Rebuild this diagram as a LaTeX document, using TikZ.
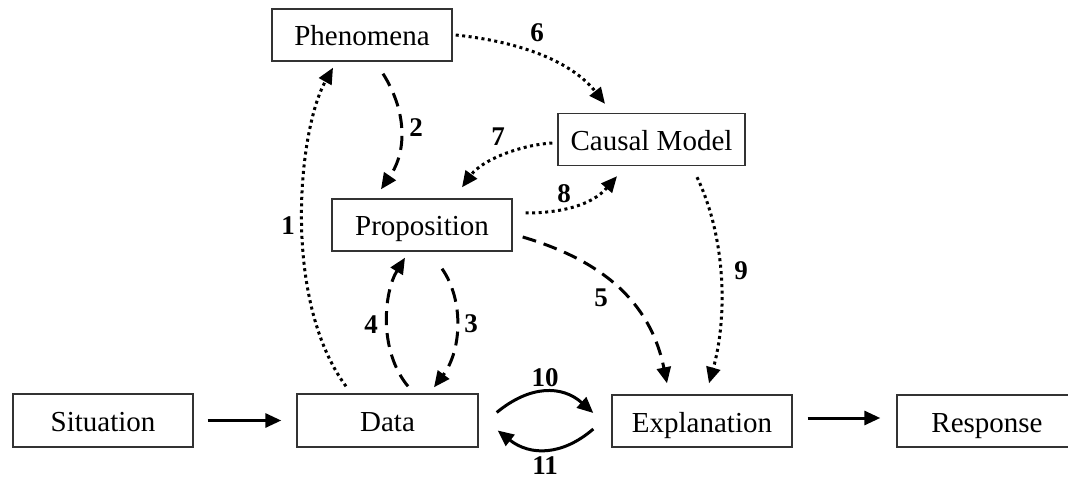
\documentclass[tikz,border=0pt]{standalone}
\usepackage{fontspec}
\setmainfont{Liberation Serif}
\usetikzlibrary{arrows.meta}
\begin{document}
\begin{tikzpicture}[x=1pt,y=-1pt,
  box/.style={draw=black!80,line width=1.4pt,inner sep=0pt,minimum height=52pt,
    text height=22pt,text depth=0pt,
    font=\fontsize{29}{32}\selectfont},
  num/.style={font=\fontsize{27}{30}\selectfont\bfseries},
  arr/.style={line width=3pt,-{Triangle[length=16pt,width=14pt]}},
  dashedarr/.style={arr,dash pattern=on 14pt off 8pt},
  dottedarr/.style={arr,dash pattern=on 3pt off 3.5pt}]
\useasboundingbox (0,0) rectangle (1068,481);
\clip (0,0) rectangle (1068,481);
\fill[white] (0,0) rectangle (1068,481);
\node[box,minimum width=180pt] (phen) at (362,35) {Phenomena};
\node[box,minimum width=187pt] (causal) at (651.5,139.5) {Causal Model};
\node[box,minimum width=180pt] (prop) at (422,225) {Proposition};
\node[box,minimum width=180pt,minimum height=53pt] (sit) at (103,420.5) {Situation};
\node[box,minimum width=181pt,minimum height=53pt] (data) at (387.5,420.5) {Data};
\node[box,minimum width=180pt,minimum height=52pt] (expl) at (702,421) {Explanation};
\node[box,minimum width=180pt,minimum height=52pt] (resp) at (987,421) {Response};
% solid
\draw[arr] ([shift={(14,0)}]sit.east) -- ([shift={(-15,0)}]data.west);
\draw[arr] ([shift={(15,-3)}]expl.east) -- ([shift={(-16,-3)}]resp.west);
\draw[arr] ([shift={(18,-8)}]data.east) .. controls (530,385) and (562,385) .. ([shift={(-18,-8)}]expl.west);
\draw[arr] ([shift={(-18,8)}]expl.west) .. controls (562,456) and (530,456) .. ([shift={(19,10)}]data.east);
% 1
\draw[dottedarr] ([shift={(-41.5,-7)}]data.north) .. controls (282,300) and (298,130) .. ([shift={(-29,6)}]phen.south);
\node[num] (n1) at (288,226) {1};
% 2
\draw[dashedarr] ([shift={(21,12)}]phen.south) .. controls (406,110) and (408,150) .. ([shift={(-41,-9)}]prop.north);
\node[num] (n2) at (416,128) {2};
% 3
\draw[dashedarr] ([shift={(20,17)}]prop.south) .. controls (464,300) and (462,350) .. ([shift={(46.5,-6)}]data.north);
\node[num] (n3) at (471,324) {3};
% 4
\draw[dashedarr] ([shift={(20.5,-7)}]data.north) .. controls (378,350) and (384,292) .. ([shift={(-17,6)}]prop.south);
\node[num] (n4) at (371,325) {4};
% 5
\draw[dashedarr] ([shift={(10,12)}]prop.east) .. controls (600,260) and (650,300) .. ([shift={(-35,-11)}]expl.north);
\node[num] (n5) at (601,298) {5};
% 6
\draw[dottedarr] ([shift={(3,0)}]phen.east) .. controls (522,42) and (572,62) .. ([shift={(-46.5,-9)}]causal.north);
\node[num] (n6) at (537,33) {6};
% 7
\draw[dottedarr] ([shift={(-5,3.5)}]causal.west) .. controls (520,145) and (482,160) .. ([shift={(40,-11)}]prop.north);
\node[num] (n7) at (498,137) {7};
% 8
\draw[dottedarr] ([shift={(13,-12)}]prop.east) .. controls (562,213) and (592,205) .. ([shift={(-34.5,10)}]causal.south);
\node[num] (n8) at (564,194) {8};
% 9
\draw[dottedarr] ([shift={(45.5,11)}]causal.south) .. controls (727,240) and (727,320) .. ([shift={(7,-11)}]expl.north);
\node[num] (n9) at (741,271) {9};
\node[num] (n10) at (545,378) {10};
\node[num] (n11) at (545,466) {11};
\end{tikzpicture}
\end{document}
